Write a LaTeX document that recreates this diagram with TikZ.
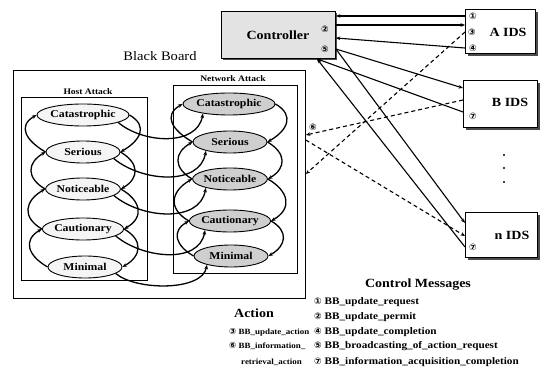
\documentclass[tikz,border=0pt]{standalone}
\usepackage{fontspec}
\setmainfont[FakeStretch=1.12]{Liberation Serif}
\newfontfamily\circfont{DejaVu Sans}
\usetikzlibrary{arrows.meta,shapes.geometric,shadows}

\begin{document}
\begin{tikzpicture}[x=1pt,y=1pt,
  every node/.style={inner sep=0pt},
  tip/.style={-{Stealth[length=4.5pt,width=3.6pt]}},
  board/.style={draw, line width=0.8pt, anchor=north west},
  lvlhost/.style={ellipse, draw, line width=0.9pt, fill=gray!8,
    minimum width=74pt, minimum height=22pt,
    font=\bfseries\fontsize{10.5}{10.5}\selectfont},
  lvlnet/.style={lvlhost, fill=gray!38},
  chain/.style={line width=1.3pt, tip},
  link/.style={line width=1.1pt, tip},
  dlink/.style={line width=1.1pt, dash pattern=on 4pt off 3pt, tip},
  ids/.style={draw, line width=0.9pt, fill=white, anchor=north west,
    drop shadow={shadow xshift=2.5pt, shadow yshift=-2.5pt, fill=gray!60!black, opacity=1}},
  idstext/.style={font=\bfseries\fontsize{12.5}{12.5}\selectfont},
  num/.style={font=\circfont\bfseries\fontsize{9}{9}\selectfont},
  heading/.style={font=\bfseries\fontsize{12.5}{12.5}\selectfont},
  legend/.style={anchor=west, font=\bfseries\fontsize{10}{10}\selectfont},
  actlegend/.style={anchor=west, font=\bfseries\fontsize{8}{8}\selectfont},
  dotmark/.style={circle, fill=black, minimum size=2.2pt},
]
\fill[white] (0,0) rectangle (546,-374);
\useasboundingbox (0,0) rectangle (546,-374);

% ---------- black board ----------
\node[board, minimum width=292pt, minimum height=228pt] (bb) at (13,-70) {};
\node[board, minimum width=126pt, minimum height=183pt] (host) at (21,-97) {};
\node[board, minimum width=124pt, minimum height=188pt] (net) at (173,-85) {};
\node[font=\fontsize{13}{13}\selectfont] (bbl) at (160,-56) {Black Board};
\node[font=\bfseries\fontsize{8.5}{8.5}\selectfont] (hl) at (88,-92) {Host Attack};
\node[font=\bfseries\fontsize{8.5}{8.5}\selectfont] (nl) at (233,-79) {Network Attack};

% host attack levels
\node[lvlhost] (h1) at (83,-115) {Catastrophic};
\node[lvlhost] (h2) at (83,-152) {Serious};
\node[lvlhost] (h3) at (83,-189) {Noticeable};
\node[lvlhost] (h4) at (83,-229) {Cautionary};
\node[lvlhost] (h5) at (85,-267) {Minimal};

% network attack levels
\node[lvlnet] (n1) at (229,-104) {Catastrophic};
\node[lvlnet] (n2) at (230,-142) {Serious};
\node[lvlnet] (n3) at (230,-179) {Noticeable};
\node[lvlnet] (n4) at (230,-221) {Cautionary};
\node[lvlnet] (n5) at (231,-256) {Minimal};

% level transitions inside each attack box
\foreach \a/\b in {1/2,2/3,3/4,4/5}{
  \draw[chain] (h\b.west) to[out=150,in=210,looseness=1.5] (h\a.west);
  \draw[chain] (h\a.east) to[out=-30,in=30,looseness=1.5] (h\b.east);
  \draw[chain] (n\b.west) to[out=150,in=210,looseness=1.5] (n\a.west);
  \draw[chain] (n\a.east) to[out=-30,in=30,looseness=1.5] (n\b.east);
}

% host level -> network level
\foreach \i in {1,2,3,4}{
  \draw[chain] (h\i.-12) to[out=-40,in=-100] (n\i.200);
}
\draw[chain] (h5.-12) to[out=-40,in=-100,looseness=0.75] (n5.200);

% ---------- controller and IDS ----------
\node[draw, line width=0.9pt, fill=gray!22, anchor=north west,
  minimum width=114pt, minimum height=47pt,
  drop shadow={shadow xshift=1.5pt, shadow yshift=-1.5pt, fill=gray!60!black, opacity=1}]
  (ctrl) at (221,-11) {};
\node[font=\bfseries\fontsize{12.5}{12.5}\selectfont] (ctrlt) at (278,-35) {Controller};
\node[num] (c2) at (325,-29) {②};
\node[num] (c5) at (325,-49) {⑤};

\node[ids, minimum width=70pt, minimum height=44pt] (ida) at (465,-9) {};
\node[idstext] (idat) at (508,-32) {A IDS};
\node[num] (a1) at (473,-16) {①};
\node[num] (a3) at (472,-32) {③};
\node[num] (a4) at (473,-48) {④};

\node[ids, minimum width=74pt, minimum height=47pt] (idb) at (463,-80) {};
\node[idstext] (idbt) at (510,-102) {B IDS};
\node[num] (b7) at (473,-116) {⑦};

\node[ids, minimum width=72pt, minimum height=45pt] (idn) at (465,-212) {};
\node[idstext] (idnt) at (512,-235) {n IDS};
\node[num] (m7) at (473,-247) {⑦};

\node[dotmark] (d1) at (504,-155) {};
\node[dotmark] (d2) at (504,-168) {};
\node[dotmark] (d3) at (504,-182) {};

\node[num] (six) at (313,-127) {⑥};

% attachment levels
\coordinate (yperm) at (0,-25);
\coordinate (ydone) at (0,-38);
\coordinate (yb) at (0,-88);
\coordinate (yb7) at (0,-112);
\coordinate (yn) at (0,-223);
\coordinate (xin) at (317,0);
\coordinate (ybbA) at (0,-174);
\coordinate (ybbB) at (0,-135);
\coordinate (ybbN) at (0,-140);
\coordinate (yBd) at (0,-100);
\coordinate (yNd) at (0,-236);

% control messages
\draw[link] (ida.west |- a1) -- (ctrl.east |- a1);
\draw[link] (ctrl.east |- yperm) -- (ida.west |- yperm);
\draw[link] (ida.west |- a4) -- (ctrl.east |- ydone);
\draw[link] (ctrl.east |- c5) -- (idb.west |- yb);
\draw[link] (idb.west |- yb7) -- (ctrl.south -| xin);
\draw[link] (ctrl.east |- c5) -- (idn.west |- yn);
\draw[link] (idn.west |- m7) -- (ctrl.south -| xin);

% actions on the black board
\draw[dlink] (ida.west |- a3) -- (bb.east |- ybbA);
\draw[dlink] (idb.west |- yBd) -- (bb.east |- ybbB);
\draw[dlink] (bb.east |- ybbN) -- (idn.west |- yNd);

% ---------- legends ----------
\node[heading] (cmh) at (418,-285) {Control Messages};
\node[legend] (l1) at (314,-302) {{\circfont\fontsize{9}{9}\selectfont ①} BB\_update\_request};
\node[legend] (l2) at (314,-317) {{\circfont\fontsize{9}{9}\selectfont ②} BB\_update\_permit};
\node[legend] (l4) at (314,-332) {{\circfont\fontsize{9}{9}\selectfont ④} BB\_update\_completion};
\node[legend] (l5) at (314,-346) {{\circfont\fontsize{9}{9}\selectfont ⑤} BB\_broadcasting\_of\_action\_request};
\node[legend] (l7) at (314,-362) {{\circfont\fontsize{9}{9}\selectfont ⑦} BB\_information\_acquisition\_completion};

\node[heading] (ach) at (254,-313) {Action};
\node[actlegend] (l3) at (229,-332) {{\circfont\fontsize{8.5}{8.5}\selectfont ③} BB\_update\_action};
\node[actlegend] (l6) at (229,-346) {{\circfont\fontsize{8.5}{8.5}\selectfont ⑥} BB\_information\_};
\node[actlegend] (l6b) at (241,-362) {retrieval\_action};
\end{tikzpicture}
\end{document}
